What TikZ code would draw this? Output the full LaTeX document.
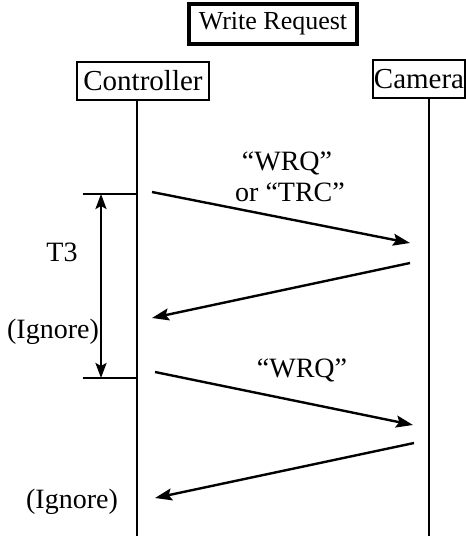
\documentclass[tikz,border=0pt]{standalone}
\usepackage{fontspec}
\setmainfont{Liberation Serif}
\usetikzlibrary{arrows.meta}
\begin{document}
\begin{tikzpicture}[x=1pt,y=-1pt,
  lbl/.style={font=\fontsize{28}{30}\selectfont, inner sep=0pt},
  actor/.style={draw, line width=1.6pt, font=\fontsize{29}{30}\selectfont, inner xsep=1pt, inner ysep=0pt, minimum height=38pt},
  life/.style={line width=2.4pt},
  msg/.style={line width=2.4pt, -{Stealth[length=17pt,width=12pt,inset=3pt]}},
  tick/.style={line width=2.4pt}]
\useasboundingbox (0,0) rectangle (466,536);
\node[draw, line width=3.5pt, font=\fontsize{26}{28}\selectfont, minimum width=168pt, minimum height=40pt, inner sep=0pt] (title) at (273,24) {Write Request};
\node[actor, minimum width=132pt] (ctrl) at (143,81) {Controller};
\node[actor, minimum width=91pt] (cam) at (419,79) {Camera};
\coordinate (ctop) at (137,100);
\coordinate (cbot) at (137,536);
\coordinate (mtop) at (429,98);
\coordinate (mbot) at (429,536);
\draw[life] (ctop) -- (cbot);
\draw[life] (mtop) -- (mbot);
% T3 interval
\coordinate (t1a) at (83,194);
\coordinate (t1b) at (137,194);
\coordinate (t2a) at (83,378);
\coordinate (t2b) at (137,378);
\coordinate (v1) at (101,194);
\coordinate (v2) at (101,378);
\draw[tick] (t1a) -- (t1b);
\draw[tick] (t2a) -- (t2b);
\draw[line width=2.4pt, {Stealth[length=15pt,width=11pt,inset=3pt]}-{Stealth[length=15pt,width=11pt,inset=3pt]}] (v1) -- (v2);
% messages
\coordinate (a1s) at (152,192);
\coordinate (a1e) at (410,243);
\coordinate (a2s) at (410,263);
\coordinate (a2e) at (152,318);
\coordinate (a3s) at (155,372);
\coordinate (a3e) at (413,425);
\coordinate (a4s) at (414,443);
\coordinate (a4e) at (155,498);
\draw[msg] (a1s) -- (a1e);
\draw[msg] (a2s) -- (a2e);
\draw[msg] (a3s) -- (a3e);
\draw[msg] (a4s) -- (a4e);
% labels
\node[lbl] (l1) at (287,163) {“WRQ”};
\node[lbl] (l2) at (290,192) {or “TRC”};
\node[lbl] (t3) at (62,252) {T3};
\node[lbl] (ig1) at (53,332) {(Ignore)};
\node[lbl] (l3) at (302,370) {“WRQ”};
\node[lbl] (ig2) at (72,502) {(Ignore)};
\end{tikzpicture}
\end{document}
